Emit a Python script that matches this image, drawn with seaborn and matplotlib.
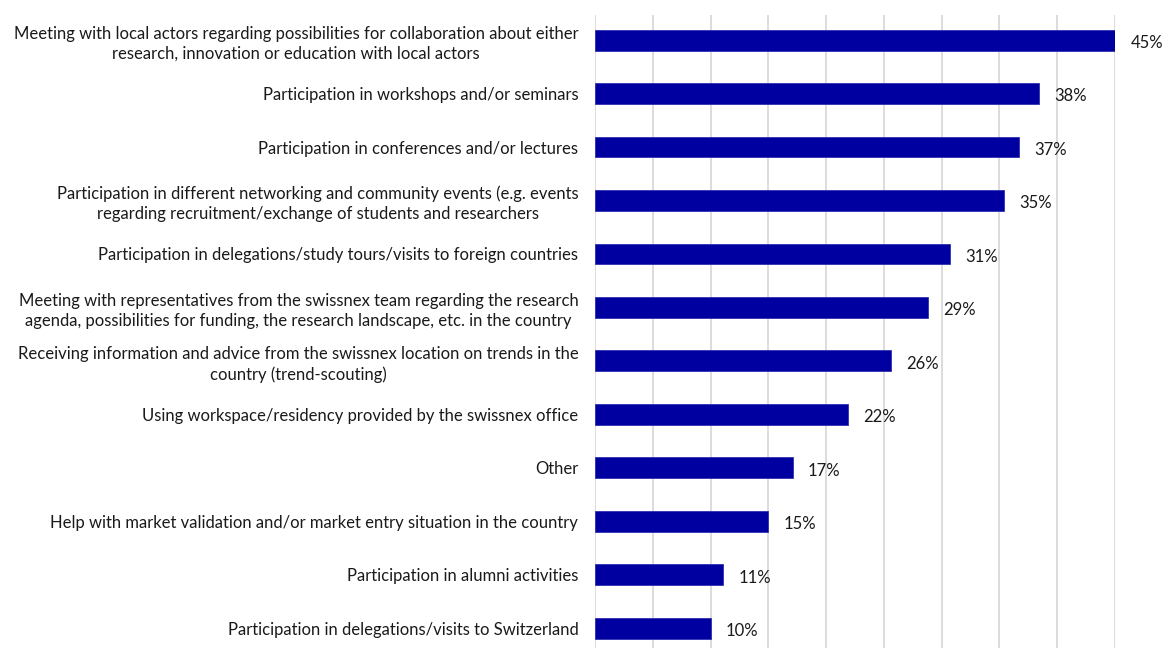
import numpy as np
import pandas as pd
import matplotlib
matplotlib.use("Agg")
import matplotlib.pyplot as plt
import seaborn as sns

# Activities and share of respondents
activities = [
    "Meeting with local actors regarding possibilities for collaboration about either\nresearch, innovation or education with local actors",
    "Participation in workshops and/or seminars",
    "Participation in conferences and/or lectures",
    "Participation in different networking and community events (e.g. events\nregarding recruitment/exchange of students and researchers",
    "Participation in delegations/study tours/visits to foreign countries",
    "Meeting with representatives from the swissnex team regarding the research\nagenda, possibilities for funding, the research landscape, etc. in the country",
    "Receiving information and advice from the swissnex location on trends in the\ncountry (trend-scouting)",
    "Using workspace/residency provided by the swissnex office",
    "Other",
    "Help with market validation and/or market entry situation in the country",
    "Participation in alumni activities",
    "Participation in delegations/visits to Switzerland",
]
shares = [45.0, 38.4, 36.7, 35.4, 30.7, 28.8, 25.6, 21.9, 17.1, 15.0, 11.1, 10.0]
share_labels = ["45%", "38%", "37%", "35%", "31%", "29%", "26%", "22%", "17%", "15%", "11%", "10%"]

df = pd.DataFrame({"activity": activities, "share": shares})

sns.set_style("white")
plt.rcParams["font.family"] = ["Lato", "DejaVu Sans"]

fig = plt.figure(figsize=(11.71, 6.48), dpi=100)
ax = fig.add_axes([595 / 1171, 0.0, (1115 - 595) / 1171, (648 - 15) / 648])

sns.barplot(data=df, y="activity", x="share", orient="h", color="#0000A0",
            saturation=1, width=0.39, edgecolor="#3030B0", linewidth=0.6,
            ax=ax, zorder=3)

ax.set_xlim(0, 45)
ax.set_ylim(11.37, -0.47)
ax.set_xticks(np.arange(0, 46, 5))
ax.xaxis.grid(True, color="#D9D9D9", linewidth=1.3, zorder=0)
ax.yaxis.grid(False)
ax.set_xticklabels([])
ax.tick_params(axis="x", length=0)
ax.tick_params(axis="y", length=0, pad=12, labelsize=12, labelcolor="#1a1a1a")
for lab in ax.get_yticklabels():
    lab.set_multialignment("center")
    lab.set_linespacing(1.3)
for s in ax.spines.values():
    s.set_visible(False)
ax.set_xlabel("")
ax.set_ylabel("")

for i, (v, t) in enumerate(zip(shares, share_labels)):
    ax.annotate(t, xy=(v, i), xytext=(11, -2), textcoords="offset points",
                ha="left", va="center", fontsize=12, color="#1a1a1a", annotation_clip=False)

fig.savefig("out.png", dpi=100)
